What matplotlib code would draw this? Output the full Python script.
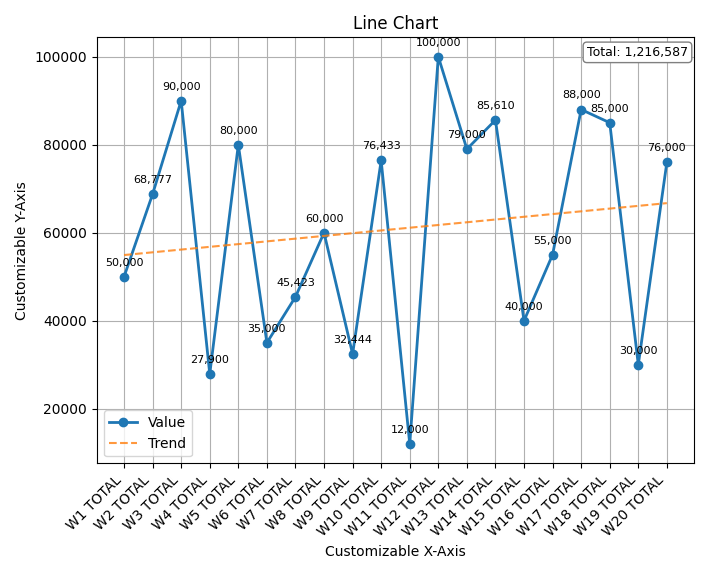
import matplotlib.pyplot as plt
import numpy as np

labels = [f'W{i} TOTAL' for i in range(1, 21)]
values = [50000, 68777, 90000, 27900, 80000, 35000, 45423, 60000, 32444, 76433,
          12000, 100000, 79000, 85610, 40000, 55000, 88000, 85000, 30000, 76000]

fig, ax = plt.subplots(figsize=(7.09, 5.74), dpi=100)

x = np.arange(len(labels))
ax.plot(x, values, marker='o', linewidth=2, label='Value')

# linear trend
coef = np.polyfit(x, values, 1)
ax.plot(x, np.polyval(coef, x), linestyle='--', color='#ff7f0e', alpha=0.8, label='Trend')

for xi, v in zip(x, values):
    ax.annotate(f'{v:,}', (xi, v), textcoords='offset points', xytext=(0, 8),
                ha='center', fontsize=8)

ax.text(0.99, 0.98, f'Total: {sum(values):,}', transform=ax.transAxes,
        ha='right', va='top', fontsize=9,
        bbox=dict(boxstyle='round', facecolor='white', edgecolor='gray'))

ax.set_xticks(x)
ax.set_xticklabels(labels, rotation=45, ha='right')
ax.set_title('Line Chart')
ax.set_xlabel('Customizable X-Axis')
ax.set_ylabel('Customizable Y-Axis')
ax.grid(True)
ax.legend(loc='lower left')
plt.tight_layout()
plt.savefig('out.png')
